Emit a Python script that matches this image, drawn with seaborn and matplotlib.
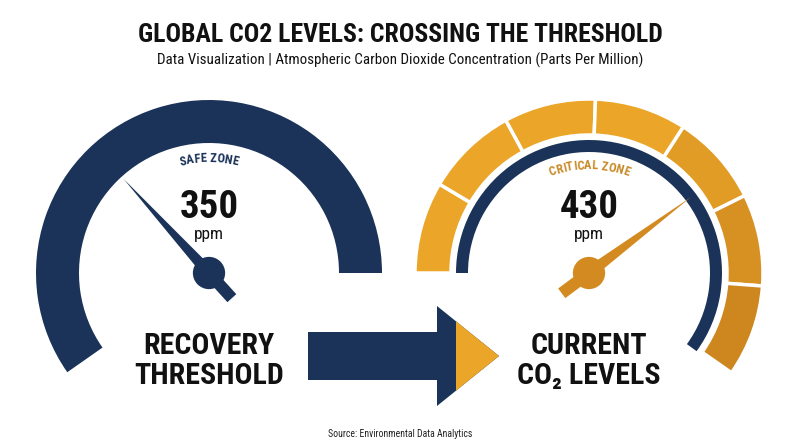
import numpy as np
import matplotlib
matplotlib.use("Agg")
import matplotlib.pyplot as plt
import seaborn as sns
from matplotlib.patches import Wedge, Polygon
from matplotlib.font_manager import FontProperties
from matplotlib.textpath import TextToPath

# --- data -------------------------------------------------------------
title = "GLOBAL CO2 LEVELS: CROSSING THE THRESHOLD"
subtitle = "Data Visualization | Atmospheric Carbon Dioxide Concentration (Parts Per Million)"
source = "Source: Environmental Data Analytics"

gauge_names = ["RECOVERY\nTHRESHOLD", "CURRENT\nCO₂ LEVELS"]
gauge_values = [350, 430]
gauge_units = ["ppm", "ppm"]
zone_names = ["SAFE ZONE", "CRITICAL ZONE"]
scale_min, scale_max = 310, 490
n_segments = 7

# --- style ------------------------------------------------------------
NAVY = "#1B3358"
ORANGE = "#EBA629"
ORANGE_DARK = "#CD871E"
NEEDLE_ORANGE = "#D38B21"
ZONE_ORANGE = "#C98A28"
INK = "#111111"

W, H = 800, 447
sns.set_theme(style="white")
fam = ["Roboto Condensed", "DejaVu Sans"]
plt.rcParams["font.family"] = fam

fig = plt.figure(figsize=(8, 4.47), dpi=100)
ax = fig.add_axes([0, 0, 1, 1])
ax.set_xlim(0, W)
ax.set_ylim(0, H)
ax.axis("off")

centers = [(209, 174), (589, 174)]
ttp = TextToPath()


def val_to_angle(v):
    return 180 - (v - scale_min) / (scale_max - scale_min) * 215


def needle(c, ang, color, L=127, tail=34, w=12):
    a = np.radians(ang)
    d = np.array([np.cos(a), np.sin(a)])
    n = np.array([-np.sin(a), np.cos(a)])
    c = np.array(c)
    pts = [c + L * d, c + w / 2 * n, c - tail * d + w / 2 * n,
           c - tail * d - w / 2 * n, c - w / 2 * n]
    ax.add_patch(Polygon(pts, closed=True, fc=color, ec="none", zorder=4))


def curved_text(s, c, r, size, color):
    fp = FontProperties(family=fam, weight="bold", size=size)

    def wid(t):
        if not t:
            return 0.0
        w, h, d = ttp.get_text_width_height_descent(t, fp, ismath=False)
        return w * 100 / 72

    total = wid(s)
    for i, ch in enumerate(s):
        if ch == " ":
            continue
        mid = (wid(s[:i]) + wid(s[:i + 1])) / 2
        ang = 90 - np.degrees((mid - total / 2) / r)
        a = np.radians(ang)
        x, y = c[0] + r * np.cos(a), c[1] + r * np.sin(a)
        ax.text(x, y, ch, rotation=ang - 90, rotation_mode="anchor",
                ha="center", va="baseline", fontproperties=fp, color=color)


# left gauge: solid navy arc
cl = centers[0]
ax.add_patch(Wedge(cl, 173, 0, 215, width=43, fc=NAVY, ec="none"))

# right gauge: segmented orange arc + inner navy ring
cr = centers[1]
edges = np.linspace(180, -35, n_segments + 1)
seg_cols = sns.blend_palette([ORANGE, ORANGE, ORANGE_DARK], n_segments)
for i in range(n_segments):
    ax.add_patch(Wedge(cr, 174, edges[i + 1], edges[i], width=36,
                       fc=seg_cols[i], ec="white", lw=2.5))
ax.add_patch(Wedge(cr, 133, -36, 180, width=12, fc=NAVY, ec="none"))

# needles and hubs
needle_cols = [NAVY, NEEDLE_ORANGE]
for c, v, col in zip(centers, gauge_values, needle_cols):
    needle(c, val_to_angle(v), col)
sns.scatterplot(x=[c[0] for c in centers], y=[c[1] for c in centers],
                hue=zone_names, palette=needle_cols, s=540, linewidth=0,
                legend=False, ax=ax, zorder=5)

# texts in the gauges
zone_cols = [NAVY, ZONE_ORANGE]
zone_r = [111, 104]
for c, v, u, name, z, zc, zr in zip(centers, gauge_values, gauge_units,
                                     gauge_names, zone_names, zone_cols, zone_r):
    curved_text(z, c, zr, 9, zc)
    ax.text(c[0], H - 207, str(v), ha="center", va="center",
            fontsize=28, weight="bold", color=INK)
    ax.text(c[0], H - 234, u, ha="center", va="center",
            fontsize=12.5, color=INK)
    for j, line in enumerate(name.split("\n")):
        ax.text(c[0], H - 346 - 30 * j, line, ha="center", va="center",
                fontsize=21.5, weight="bold", color=INK)

# arrow between gauges
ax.add_patch(Polygon([(308, H - 332), (437, H - 332), (437, H - 380), (308, H - 380)],
                     fc=NAVY, ec="none"))
head = np.array([(437, H - 306), (499, H - 356), (437, H - 406)])
ax.add_patch(Polygon(head, fc=NAVY, ec="none"))
t = (456 - 437) / (499 - 437)
p1 = head[0] + t * (head[1] - head[0])
p2 = head[2] + t * (head[1] - head[2])
ax.add_patch(Polygon([p1, head[1], p2], fc=ORANGE, ec="none"))

# titles
ax.text(W / 2, H - 35, title, ha="center", va="center", fontsize=18.5,
        weight="bold", color=INK)
ax.text(W / 2, H - 60, subtitle, ha="center", va="center", fontsize=10.8,
        color=INK)
ax.text(W / 2, H - 434, source, ha="center", va="center", fontsize=7,
        color="#222222")

fig.savefig("out.png", dpi=100)
